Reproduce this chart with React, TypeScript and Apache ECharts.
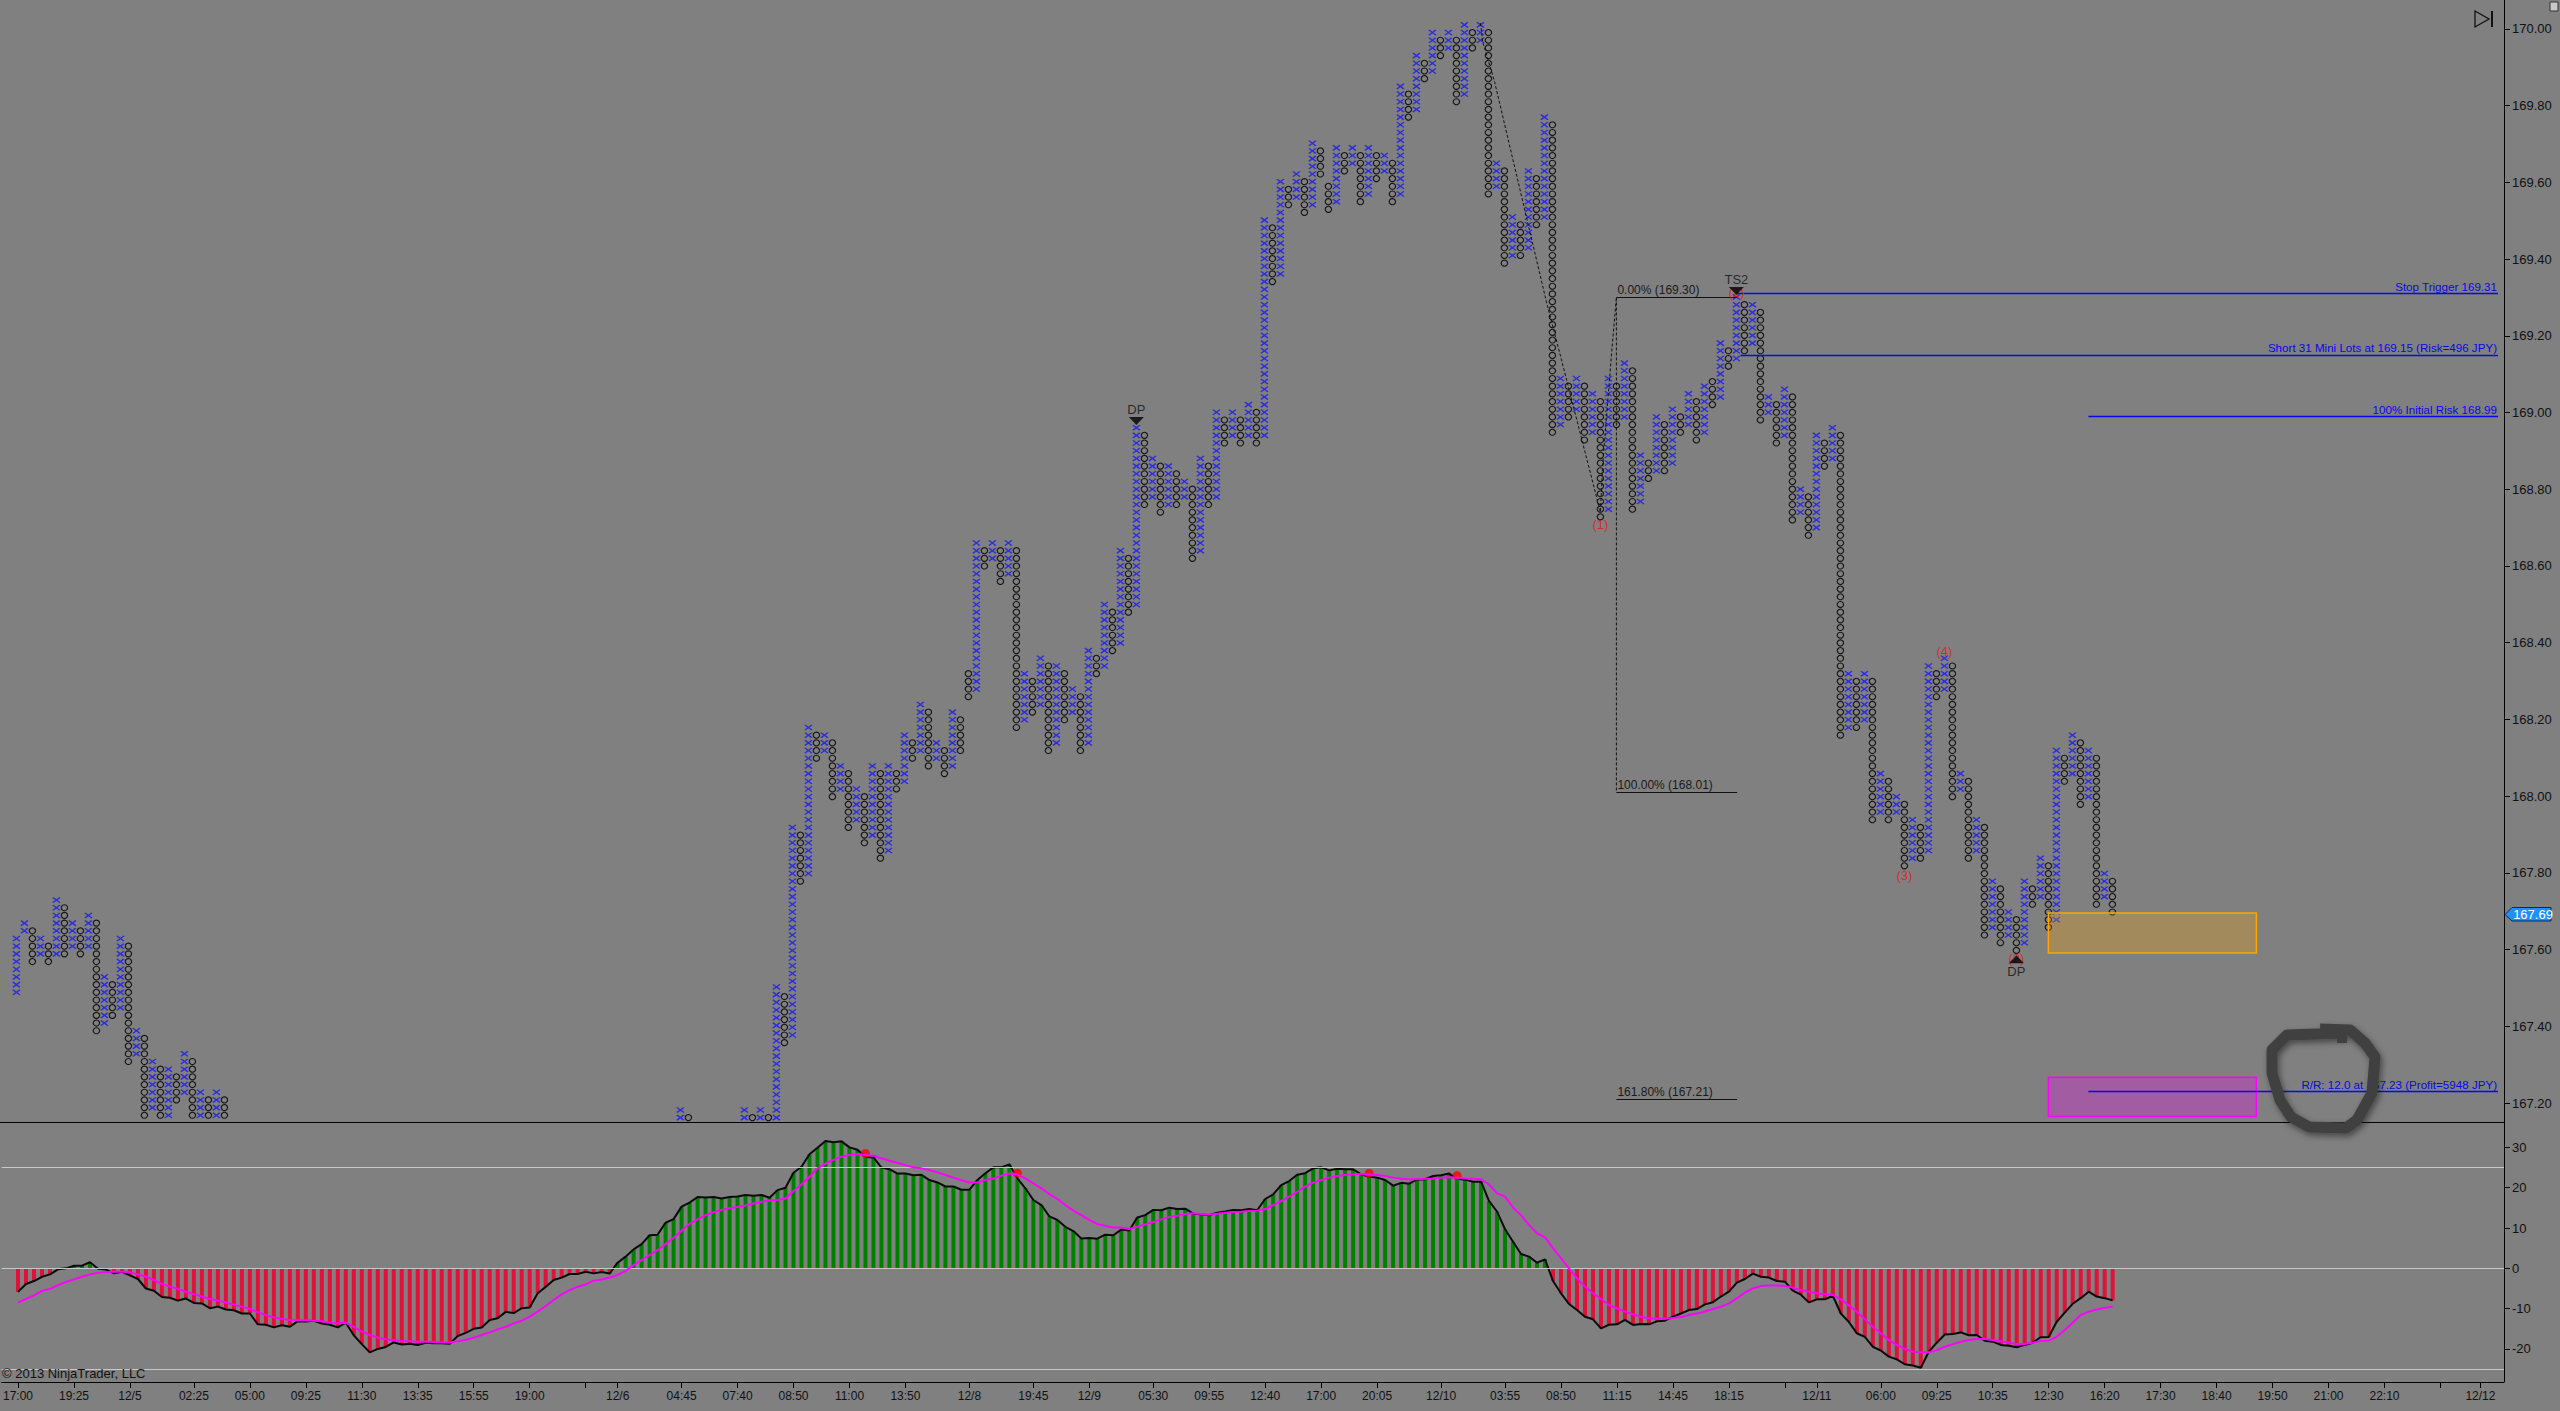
import React, { useEffect, useRef } from "react";
import * as echarts from "echarts";

const FONT = "Liberation Sans, Arial, sans-serif";

// Point & figure columns, in boxes above the 167.20 line
const blockAStart = 0;
const blockAKinds = "XXOXOXOXOXOXOXOXOXOXOXOXOXO";
const blockALows = [14,22,18,19,18,19,19,20,19,20,9,10,11,12,5,6,-2,-1,-2,-2,0,1,-2,-2,-2,-2,-2];
const blockAHighs = [21,23,22,21,20,26,25,23,22,24,23,16,15,21,20,9,8,5,4,4,3,6,5,1,0,1,0];

const blockBStart = 83;
const blockBKinds = "XO";
const blockBLows = [-2,-2];
const blockBHighs = [-1,-2];

const blockCStart = 91;
const blockCKinds = ["XO".repeat(14), "O", "XO".repeat(22), "O", "XO".repeat(23), "X", "O", "XO".repeat(25)].join("");
const blockCLows = [
  -2,-2,-2,-2,-2,8,9,29,30,45,46,40,41,36,37,34,35,32,33,41,42,45,46,44,45,43,44,46,
  53,54,70,71,68,69,49,50,51,52,46,47,50,51,46,47,56,57,59,60,64,65,78,79,77,78,78,79,71,72,78,79,86,87,86,87,86,87,107,108,117,118,116,117,121,
  116,117,121,122,117,118,120,121,117,118,128,129,133,134,136,137,130,131,137,138,118,119,109,110,110,111,114,115,87,88,89,90,86,87,76,77,88,89,77,78,81,82,82,83,87,88,86,87,
  91,92,96,97,98,99,89,90,86,87,76,77,74,75,83,84,48,49,49,50,37,38,37,38,31,32,32,33,53,54,40,41,32,33,22,23,21,22,20,21,26,27,23,24,42,43,39,40,26,27,25
];
const blockCHighs = [
  -1,-2,-1,-2,15,14,36,35,49,48,48,47,44,43,41,40,44,43,44,43,48,47,52,51,47,46,51,50,
  56,73,72,73,72,73,72,56,55,58,57,57,56,54,53,59,58,65,64,72,71,88,87,84,83,83,82,81,80,84,83,90,89,90,89,91,90,115,114,120,119,121,120,125,124,
  119,124,123,124,123,124,123,123,122,132,131,136,135,139,138,139,138,140,139,140,139,122,121,115,114,121,120,128,127,94,93,94,93,92,91,94,93,96,95,84,83,89,88,90,89,92,91,93,
  94,99,98,105,104,104,103,92,91,93,92,80,79,87,86,88,87,56,55,56,55,43,42,40,39,37,36,57,56,58,57,43,42,37,36,29,28,25,24,29,28,32,31,46,45,48,47,46,45,30,29
];
const rowShiftFrom = [0, 83, 96, 164, 212];
const rowShift = [0.2, -0.1, -0.35, 0.05, -0.35];

// Indicator, one value per column
const histogramValues = [
  -5.8,-3.9,-3.15,-2.1,-1.5,-0.25,0,0.65,0.65,1.5,-0.1,-0.3,-1.25,-0.85,-1.75,-2.65,-5,-5.55,-7.1,-7.3,
  -8,-7.5,-8.6,-8.7,-9.9,-9.5,-10.2,-10.4,-11.2,-11.2,-13.9,-14,-14.65,-14.1,-14.5,-13.1,-13.2,-13,-13.7,-14,
  -14.65,-13.5,-16.6,-18.8,-20.85,-20,-19.5,-18.4,-18.9,-18.7,-19,-18.45,-18.6,-18.6,-18.7,-16.8,-16,-15,-14.7,-12.8,
  -12.4,-10.8,-11.1,-9.9,-9.7,-6.2,-4.6,-2.9,-2.3,-1.4,-1.4,-0.85,-1.25,-0.9,-1.3,1.4,2.9,4.7,6,8.2,
  8.35,11.3,12.2,15.3,16.3,17.7,17.6,17.7,17.3,17.7,17.8,18.2,18,18.2,17.5,19.4,20,23.7,25.2,
  28.3,29.9,31.6,31.3,31.5,30,29.4,27.6,27.5,25,24.6,23.5,23.5,23.1,23.2,21.9,21.3,20.3,20.3,19.5,19.5,
  21.9,23.6,25.05,25.05,25.8,22.3,19.85,16.95,15.7,12.9,12,10.3,9.25,7.4,7.5,7.35,8.35,8.2,9.6,9.4,
  12.6,13.2,14.5,14.4,15.05,14.7,14.8,13.55,13.4,13.15,13.8,14.1,14.5,14.4,14.7,14.4,17.2,18.35,20.65,21.65,
  23.2,23.6,24.8,25.05,24.3,24.7,24.6,24.55,23.3,22.7,22.5,21.9,20.5,21.2,21,22,22.1,22.9,23.1,23.5,
  22.2,22,21.5,21.5,16.7,14.05,9.7,6.6,3.55,2.9,1.4,2.2,-3.15,-6.2,-8.85,-10.35,-12,-12.65,-14.9,-14,
  -13.9,-12.8,-14.05,-13.8,-13.9,-13.15,-13,-12,-11.2,-10.35,-10.1,-8.95,-8.4,-7,-5.8,-3.55,-2.65,-1.3,-2.1,-2.3,
  -3.15,-3.3,-5.55,-6.55,-8.45,-7.7,-7.7,-6.8,-11.2,-13.3,-16.1,-17,-19.45,-20.4,-21.9,-22.6,-23.8,-24.1,-24.65,-20.7,
  -18.45,-16.4,-16.3,-15.9,-16.6,-16.55,-17.95,-18.2,-19,-19.2,-19.6,-19,-18.45,-17.1,-17.05,-13.25,-11,-8.8,-7.4,-5.8,
  -7,-7.4,-7.95
];
const signalValues = [
  -8.45,-7.6,-6.7,-5.6,-5.1,-4.15,-3.4,-2.75,-2.1,-1.5,-1.1,-0.9,-0.85,-0.85,-1,-1.5,-2.1,-2.9,-3.9,-4.55,
  -5.1,-5.8,-6.4,-7,-7.6,-8,-8.5,-9,-9.5,-10.1,-10.85,-11.6,-12.2,-12.5,-12.8,-12.9,-12.9,-13,-13.15,-13.5,
  -13.6,-13.5,-14.5,-15.7,-16.55,-17.2,-17.6,-17.85,-18.1,-18.1,-18.2,-18.2,-18.3,-18.4,-18.4,-18.1,-17.7,-17.2,-16.55,-15.9,
  -15.15,-14.5,-13.65,-13,-12,-10.75,-9.35,-7.85,-6.45,-5.4,-4.55,-4,-3.05,-2.75,-2.3,-1.65,-0.6,0.8,2.05,3.3,
  4.5,6,7.6,9.35,11,12.15,13.2,13.9,14.5,14.9,15.2,15.6,16.1,16.5,16.8,16.95,17.3,19.2,20.8,
  22.7,24.8,26,26.9,27.7,28.1,28.3,28.1,27.95,27.3,26.7,26.2,25.6,25.05,24.8,24.4,23.8,23.15,22.5,21.85,21.3,
  21.3,21.9,22.3,23,23.5,23.3,22.3,21.1,19.85,18.4,17.2,15.7,14.3,13.2,12,11,10.5,10.15,10.1,9.75,
  10.3,10.9,11.5,12.15,12.7,13.05,13.5,13.65,13.5,13.3,13.55,13.8,14,14.05,14.2,14.3,14.7,15.7,16.7,17.8,
  19,20.25,21.25,21.9,22.5,22.9,23.15,23.3,23.4,23.3,23.15,22.9,22.5,22.25,22.1,22.1,22.2,22.3,22.5,22.6,
  22.5,22.3,22.2,22.1,20.8,18.6,17.8,15.1,13.2,10.75,8.7,7.7,5,2.5,0,-2.5,-4.55,-6.2,-7.6,-9.1,
  -9.9,-10.75,-11.4,-12,-12.4,-12.5,-12.5,-12.3,-12.1,-11.6,-11.2,-10.7,-10.1,-9.5,-8.7,-7.45,-6,-5,-4.4,-4.25,
  -4.25,-4.4,-4.8,-5.4,-5.8,-6.2,-6.45,-6.6,-7.7,-9.2,-10.75,-12.65,-14.5,-16.1,-17.8,-19,-20,-20.7,-20.85,-20.85,
  -20.3,-19.45,-18.8,-18.2,-17.8,-17.55,-17.55,-17.8,-18.1,-18.45,-18.8,-18.8,-18.45,-18,-17.95,-17,-15.3,-13.5,-11.6,-10.75,
  -10.2,-9.8,-9.5
];
const alertCols = [106, 125, 169, 180];
const alertValues = [28.5, 23.6, 23.6, 23];
const guideLevels = [25, 0, -25];

// Axes
const priceTicks = [167.2,167.4,167.6,167.8,168,168.2,168.4,168.6,168.8,169,169.2,169.4,169.6,169.8,170];
const indicatorTicks = [30, 20, 10, 0, -10, -20];
const timeTickCols = [0,7,14,22,29,36,43,50,57,64,71,75,83,90,97,104,111,119,127,134,142,149,156,163,170,178,186,193,200,207,214,221,225,233,240,247,254,261,268,275,282,289,296,303,308];
const timeTickLabels = ["17:00","19:25","12/5","02:25","05:00","09:25","11:30","13:35","15:55","19:00","","12/6","04:45","07:40","08:50","11:00","13:50","12/8","19:45","12/9","05:30","09:55","12:40","17:00","20:05","12/10","03:55","08:50","11:15","14:45","18:15","","12/11","06:00","09:25","10:35","12:30","16:20","17:30","18:40","19:50","21:00","22:10","","12/12"];

// Annotations
const trendCols = [183, 183.3, 184.8, 191.2, 193.2, 198, 198.3, 199.4, 200];
const trendPrices = [170.015, 169.966, 169.86, 169.293, 169.132, 168.74, 168.868, 169.155, 169.3];
const fibPrices = [169.3, 168.01, 167.21];
const fibLabels = ["0.00% (169.30)", "100.00% (168.01)", "161.80% (167.21)"];
const planPrices = [169.31, 169.15, 168.99, 167.23];
const planStarts = [215, 215.5, 259, 259];
const planLabels = ["Stop Trigger 169.31", "Short 31 Mini Lots at 169.15 (Risk=496 JPY)", "100% Initial Risk 168.99", "R/R: 12.0 at 167.23 (Profit=5948 JPY)"];
const noteCols = [198, 236, 241, 215, 250, 140, 215, 250];
const notePrices = [168.707, 167.794, 168.378, 169.314, 167.578, 169.009, 169.348, 167.544];
const noteTexts = ["(1)", "(3)", "(4)", "(2)", "(2)", "DP", "TS2", "DP"];
const noteColors = ["#e8141c", "#e8141c", "#e8141c", "#e8141c", "#e8141c", "#101010", "#101010", "#101010"];
const downCols = [140, 215];
const downPrices = [168.978, 169.317];
const upCols = [250];
const upPrices = [167.575];

const X_MIN = -2.05;
const X_MAX = 310.95;
const AXIS_X = 2504;

function shiftFor(col: number) {
  let s = 0;
  rowShiftFrom.forEach((from, k) => {
    if (col >= from) s = rowShift[k];
  });
  return s;
}

function collect(kind: string) {
  const out: number[][] = [];
  const add = (start: number, kinds: string, lows: number[], highs: number[]) => {
    lows.forEach((low, k) => {
      if (kinds[k] !== kind) return;
      const col = start + k;
      for (let row = low; row <= highs[k]; row++) {
        out.push([col, 167.204 + 0.02004 * (row + shiftFor(col))]);
      }
    });
  };
  add(blockAStart, blockAKinds, blockALows, blockAHighs);
  add(blockBStart, blockBKinds, blockBLows, blockBHighs);
  add(blockCStart, blockCKinds, blockCLows, blockCHighs);
  return out;
}

function buildOption() {
  const labelForCol = new Map<number, string>();
  timeTickCols.forEach((c, k) => labelForCol.set(c, timeTickLabels[k]));
  const hidden = { show: false };
  const textBase = { fontFamily: FONT };

  const fibSeries: any = {
    type: "line",
    xAxisIndex: 0,
    yAxisIndex: 0,
    data: [],
    markLine: {
      silent: true,
      symbol: "none",
      animation: false,
      lineStyle: { color: "#111", width: 1, type: "solid" },
      data: fibPrices.map((p, k) => [
        {
          coord: [200, p],
          label: {
            show: true,
            formatter: fibLabels[k],
            position: "insideStartTop",
            distance: 1,
            color: "#1a1a1a",
            fontSize: 12,
            fontFamily: FONT,
          },
        },
        { coord: [215.1, p] },
      ]),
    },
  };
  const planSeries: any = {
    type: "line",
    xAxisIndex: 0,
    yAxisIndex: 0,
    data: [],
    markLine: {
      silent: true,
      symbol: "none",
      animation: false,
      lineStyle: { color: "#0808e8", width: 1.3, type: "solid" },
      data: planPrices.map((p, k) => [
        { coord: [planStarts[k], p] },
        {
          coord: [310.2, p],
          label: {
            show: true,
            formatter: planLabels[k],
            position: "insideEndTop",
            distance: 1,
            color: "#0808e0",
            fontSize: 11.6,
            fontFamily: FONT,
          },
        },
      ]),
    },
  };

  return {
    animation: false,
    backgroundColor: "#808080",
    grid: [
      { left: 0, top: 0, width: AXIS_X, height: 1118 },
      { left: 0, top: 1122, width: AXIS_X, height: 260 },
    ],
    xAxis: [
      { type: "value", gridIndex: 0, min: X_MIN, max: X_MAX, axisLine: hidden, axisTick: hidden, axisLabel: hidden, splitLine: hidden },
      {
        type: "value",
        gridIndex: 1,
        min: X_MIN,
        max: X_MAX,
        splitLine: hidden,
        axisLine: { show: true, onZero: false, lineStyle: { color: "#000", width: 1 } },
        axisTick: { show: true, length: 6, customValues: timeTickCols, lineStyle: { color: "#000" } },
        axisLabel: {
          show: true,
          customValues: timeTickCols.filter((_, k) => timeTickLabels[k] !== ""),
          formatter: (v: number) => labelForCol.get(v) ?? "",
          color: "#111",
          fontSize: 12,
          margin: 8,
          hideOverlap: false,
          ...textBase,
        },
      },
    ],
    yAxis: [
      {
        type: "value",
        gridIndex: 0,
        position: "right",
        min: 167.1609,
        max: 170.0754,
        splitLine: hidden,
        axisLine: { show: false, onZero: false },
        axisTick: { show: true, length: 6, customValues: priceTicks, lineStyle: { color: "#000" } },
        axisLabel: {
          show: true,
          customValues: priceTicks,
          formatter: (v: number) => v.toFixed(2),
          color: "#111",
          fontSize: 13,
          margin: 8,
          ...textBase,
        },
      },
      {
        type: "value",
        gridIndex: 1,
        position: "right",
        min: -28.2,
        max: 36.3,
        splitLine: hidden,
        axisLine: { show: false, onZero: false },
        axisTick: { show: true, length: 6, customValues: indicatorTicks, lineStyle: { color: "#000" } },
        axisLabel: {
          show: true,
          customValues: indicatorTicks,
          formatter: (v: number) => String(v),
          color: "#111",
          fontSize: 13,
          margin: 8,
          ...textBase,
        },
      },
    ],
    series: [
      {
        name: "X",
        type: "scatter",
        xAxisIndex: 0,
        yAxisIndex: 0,
        progressive: 0,
        silent: true,
        symbol: "path://M0 0L10 8M0 8L10 0",
        symbolSize: [7, 5.2],
        itemStyle: { color: "transparent", borderColor: "#2a2ae8", borderWidth: 1.4, opacity: 1 },
        data: collect("X"),
        z: 2,
      },
      {
        name: "O",
        type: "scatter",
        xAxisIndex: 0,
        yAxisIndex: 0,
        progressive: 0,
        silent: true,
        symbol: "circle",
        symbolSize: [6.4, 6],
        itemStyle: { color: "transparent", borderColor: "#141414", borderWidth: 1.1, opacity: 1 },
        data: collect("O"),
        z: 2,
      },
      {
        name: "Zones",
        type: "line",
        xAxisIndex: 0,
        yAxisIndex: 0,
        data: [],
        markArea: {
          silent: true,
          z: 3,
          data: [
            [
              { coord: [254, 167.695], itemStyle: { color: "rgba(255,165,0,0.27)", borderColor: "#ffa500", borderWidth: 1.5 } },
              { coord: [280, 167.591] },
            ],
            [
              { coord: [254, 167.267], itemStyle: { color: "rgba(255,0,255,0.27)", borderColor: "#ff00ff", borderWidth: 1.5 } },
              { coord: [280, 167.1645] },
            ],
          ],
        },
      },
      {
        name: "Trend",
        type: "line",
        xAxisIndex: 0,
        yAxisIndex: 0,
        symbol: "none",
        silent: true,
        lineStyle: { color: "#111", width: 1, type: [3, 2] },
        data: trendCols.map((c, k) => [c, trendPrices[k]]),
        z: 4,
      },
      {
        name: "Fib leg",
        type: "line",
        xAxisIndex: 0,
        yAxisIndex: 0,
        symbol: "none",
        silent: true,
        lineStyle: { color: "#111", width: 1, type: [3, 2] },
        data: [[200, fibPrices[0]], [200, fibPrices[1]]],
        z: 4,
      },
      fibSeries,
      planSeries,
      {
        name: "Notes",
        type: "scatter",
        xAxisIndex: 0,
        yAxisIndex: 0,
        silent: true,
        symbolSize: 1,
        itemStyle: { color: "transparent" },
        z: 5,
        data: noteCols.map((c, k) => ({
          value: [c, notePrices[k]],
          label: {
            show: true,
            position: "inside",
            formatter: noteTexts[k],
            color: noteColors[k],
            fontSize: 13,
            fontFamily: FONT,
          },
        })),
      },
      {
        name: "Down",
        type: "scatter",
        xAxisIndex: 0,
        yAxisIndex: 0,
        silent: true,
        symbol: "triangle",
        symbolRotate: 180,
        symbolSize: [15, 8],
        itemStyle: { color: "#000" },
        z: 6,
        data: downCols.map((c, k) => [c, downPrices[k]]),
      },
      {
        name: "Up",
        type: "scatter",
        xAxisIndex: 0,
        yAxisIndex: 0,
        silent: true,
        symbol: "triangle",
        symbolSize: [15, 8],
        itemStyle: { color: "#000" },
        z: 6,
        data: upCols.map((c, k) => [c, upPrices[k]]),
      },
      {
        name: "Histogram",
        type: "bar",
        xAxisIndex: 1,
        yAxisIndex: 1,
        barWidth: 4,
        silent: true,
        itemStyle: {
          color: (p: any) => (p.value[1] >= 0 ? "#008000" : "#dc143c"),
        },
        data: histogramValues.map((v, i) => [i, v]),
        z: 2,
        markLine: {
          silent: true,
          symbol: "none",
          animation: false,
          label: { show: false },
          lineStyle: { color: "#c8c8c8", width: 1, type: "solid" },
          data: guideLevels.map((v) => ({ yAxis: v })),
        },
      },
      {
        name: "Value",
        type: "line",
        xAxisIndex: 1,
        yAxisIndex: 1,
        symbol: "none",
        silent: true,
        lineStyle: { color: "#0a0a0a", width: 2 },
        data: histogramValues.map((v, i) => [i, v]),
        z: 3,
      },
      {
        name: "Signal",
        type: "line",
        xAxisIndex: 1,
        yAxisIndex: 1,
        symbol: "none",
        silent: true,
        lineStyle: { color: "#ff00ff", width: 2 },
        data: signalValues.map((v, i) => [i, v]),
        z: 5,
      },
      {
        name: "Alerts",
        type: "scatter",
        xAxisIndex: 1,
        yAxisIndex: 1,
        silent: true,
        symbol: "circle",
        symbolSize: 9,
        itemStyle: { color: "#ff0000" },
        data: alertCols.map((c, k) => [c, alertValues[k]]),
        z: 4,
      },
    ],
    graphic: [
      { type: "line", z: 20, silent: true, shape: { x1: 0, y1: 1122.5, x2: AXIS_X, y2: 1122.5 }, style: { stroke: "#000", lineWidth: 1 } },
      { type: "line", z: 20, silent: true, shape: { x1: AXIS_X + 0.5, y1: 0, x2: AXIS_X + 0.5, y2: 1382 }, style: { stroke: "#000", lineWidth: 1 } },
      { type: "text", z: 20, silent: true, x: 2, y: 1367, style: { text: "\u00a9 2013 NinjaTrader, LLC", fill: "#111", font: `13px ${FONT}` } },
      {
        type: "polyline",
        z: 30,
        silent: true,
        shape: {
          points: [[2346,1033],[2287,1035],[2272,1050],[2272,1073],[2280,1100],[2291,1117],[2309,1127],[2346,1128],[2357,1120],[2372,1093],[2375,1057],[2365,1043],[2350,1030],[2320,1029]],
        },
        style: { fill: "none", stroke: "#404040", lineWidth: 11, lineJoin: "round", shadowBlur: 6, shadowColor: "rgba(0,0,0,0.45)", shadowOffsetX: 2, shadowOffsetY: 3 },
      },
      { type: "rect", z: 30, silent: true, shape: { x: 2337, y: 1030, width: 10, height: 13 }, style: { fill: "#404040" } },
      {
        type: "polygon",
        z: 20,
        silent: true,
        shape: { points: [[2505,914.5],[2512,907.5],[2551,907.5],[2551,921],[2512,921]] },
        style: { fill: "#1e90ff", stroke: "#0a2a55", lineWidth: 1 },
      },
      { type: "text", z: 21, silent: true, x: 2533, y: 914.5, style: { text: "167.69", fill: "#fff", font: `13px ${FONT}`, align: "center", verticalAlign: "middle" } },
      {
        type: "polygon",
        z: 20,
        silent: true,
        shape: { points: [[2475,11],[2489,19],[2475,27]] },
        style: { fill: "none", stroke: "#111", lineWidth: 1.3 },
      },
      { type: "line", z: 20, silent: true, shape: { x1: 2492, y1: 11, x2: 2492, y2: 27 }, style: { stroke: "#111", lineWidth: 2 } },
      { type: "rect", z: 20, silent: true, shape: { x: 2550, y: 2, width: 8, height: 9 }, style: { fill: "#c8c8c8", stroke: "#333", lineWidth: 1 } },
    ],
  };
}

export default function App() {
  const ref = useRef<HTMLDivElement>(null);
  useEffect(() => {
    document.body.style.margin = "0";
    document.body.style.background = "#808080";
    const chart = echarts.init(ref.current!, undefined, { renderer: "svg", width: 2560, height: 1411 });
    chart.setOption(buildOption() as any);
    return () => chart.dispose();
  }, []);
  return <div ref={ref} style={{ width: 2560, height: 1411, overflow: "hidden" }} />;
}
